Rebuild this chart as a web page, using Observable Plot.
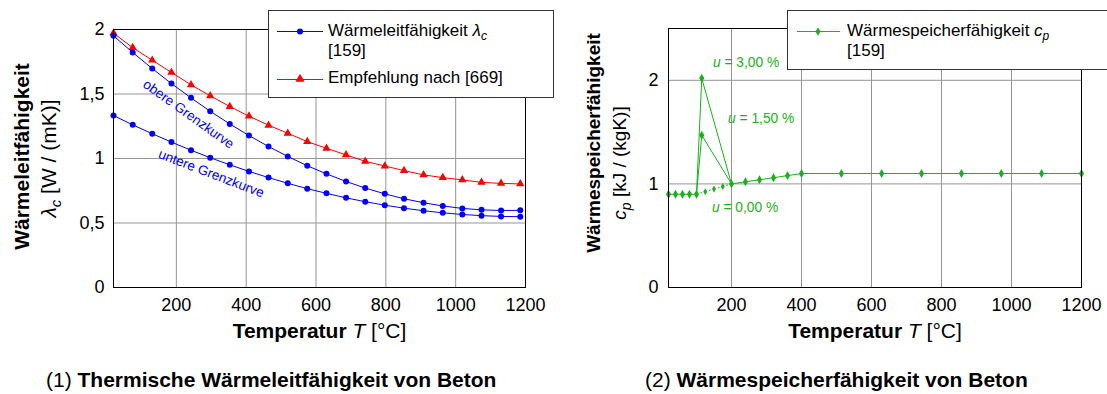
<!DOCTYPE html>
<html><head><meta charset="utf-8">
<script src="https://cdn.jsdelivr.net/npm/d3@7"></script>
<script src="https://cdn.jsdelivr.net/npm/@observablehq/plot@0.6"></script>
<style>
body{margin:0;background:#fff;}
#page{position:relative;width:1107px;height:394px;overflow:hidden;font-family:"Liberation Sans",Arial,Helvetica,sans-serif;}
#page > svg{position:absolute;top:0;}
</style></head><body><div id="page"></div>
<script>
// ---------- data: left chart (thermal conductivity) ----------
const tempLambda = [20,75,131,186,242,297,353,408,464,519,575,630,686,741,797,852,908,963,1019,1074,1130,1185];
const lambdaUpper = [1.951,1.822,1.697,1.581,1.470,1.366,1.268,1.178,1.093,1.016,0.944,0.881,0.822,0.771,0.726,0.688,0.657,0.632,0.613,0.602,0.597,0.598];
const lambdaLower = [1.333,1.261,1.192,1.127,1.064,1.006,0.951,0.900,0.852,0.808,0.766,0.730,0.695,0.665,0.638,0.615,0.595,0.579,0.566,0.557,0.551,0.549];
const lambdaRecommended = [1.972,1.859,1.762,1.667,1.571,1.486,1.403,1.328,1.258,1.196,1.131,1.079,1.028,0.978,0.942,0.906,0.873,0.852,0.834,0.815,0.807,0.803];
const lambdaTicksY = [0,0.5,1,1.5,2];
const tempTicks = [200,400,600,800,1000,1200];

// ---------- data: right chart (specific heat) ----------
const cpTempBase = [20,40,60,80,100];
const cpBase = [0.9,0.9,0.9,0.9,0.9];
const cpTempU0 = [100,125,150,175,200];
const cpU0 = [0.9,0.925,0.95,0.975,1.0];
const cpTempPeak = [100,115,200];
const cpU150 = [0.9,1.47,1.0];
const cpU300 = [0.9,2.02,1.0];
const cpTempHigh = [200,240,280,320,360,400,514,629,743,857,971,1086,1200];
const cpHigh = [1.0,1.02,1.04,1.06,1.08,1.10,1.10,1.10,1.10,1.10,1.10,1.10,1.10];
const cpTicksY = [0,1,2];

// ---------- texts ----------
const xTitle = "Temperatur T [°C]";
const yTitleLeft1 = "Wärmeleitfähigkeit";
const yTitleLeft2 = "λc [W / (mK)]";
const yTitleRight1 = "Wärmespeicherfähigkeit";
const yTitleRight2 = "cp [kJ / (kgK)]";
const curveLabels = [
  {T: 235, v: 1.343, text: "obere Grenzkurve", angle: 35.6},
  {T: 300, v: 0.883, text: "untere Grenzkurve", angle: 21}
];
const moistureLabels = [
  {T: 147, v: 2.17, text: "u = 3,00 %"},
  {T: 190, v: 1.63, text: "u = 1,50 %"},
  {T: 144, v: 0.775, text: "u = 0,00 %"}
];

const FONT = '"Liberation Sans", Arial, Helvetica, sans-serif';
const BLUE = "#0000ff", RED = "#ff0000", GREEN = "#19b219", GRID = "#959595";
const comma = d => String(d).replace(".", ",");
const rows = (xs, ys) => xs.map((T, i) => ({T, v: ys[i]}));

const upper = rows(tempLambda, lambdaUpper);
const lower = rows(tempLambda, lambdaLower);
const recom = rows(tempLambda, lambdaRecommended);

const page = document.getElementById("page");

const left = Plot.plot({
  width: 560, height: 352,
  marginLeft: 113, marginRight: 35, marginTop: 29, marginBottom: 65,
  style: {fontFamily: FONT, fontSize: "18px", color: "#000", background: "transparent", overflow: "visible"},
  x: {domain: [20, 1200]},
  y: {domain: [0, 2]},
  marks: [
    Plot.gridX(tempTicks.slice(0, -1), {stroke: GRID, strokeOpacity: 1, strokeWidth: 1}),
    Plot.gridY(lambdaTicksY.slice(1, -1), {stroke: GRID, strokeOpacity: 1, strokeWidth: 1}),
    Plot.line(recom, {x: "T", y: "v", stroke: RED, strokeWidth: 1}),
    Plot.dot(recom, {x: "T", y: "v", symbol: "triangle", r: 3.1, fill: RED}),
    Plot.line(upper, {x: "T", y: "v", stroke: BLUE, strokeWidth: 1}),
    Plot.dot(upper, {x: "T", y: "v", r: 3, fill: BLUE}),
    Plot.line(lower, {x: "T", y: "v", stroke: BLUE, strokeWidth: 1}),
    Plot.dot(lower, {x: "T", y: "v", r: 3, fill: BLUE}),
    Plot.text(curveLabels, {x: "T", y: "v", text: "text", rotate: d => d.angle, fill: BLUE, fontSize: 13.5}),
    Plot.axisX(tempTicks, {tickSize: 0, tickPadding: 11, fontSize: 18, label: null, tickFormat: d => String(d)}),
    Plot.axisY(lambdaTicksY, {tickSize: 0, tickPadding: 9, fontSize: 18, label: null, tickFormat: comma}),
    Plot.frame({stroke: "#000", strokeWidth: 1}),
    Plot.text([xTitle], {text: d => d, frameAnchor: "bottom", lineAnchor: "bottom", dy: 50, fontSize: 21}),
    Plot.text([yTitleLeft1], {text: d => d, frameAnchor: "left", textAnchor: "middle", rotate: -90, dx: -91, dy: -2, fontSize: 21, fontWeight: "bold"}),
    Plot.text([yTitleLeft2], {text: d => d, frameAnchor: "left", textAnchor: "middle", rotate: -90, dx: -64, fontSize: 21})
  ]
});
left.style.left = "0px";
page.appendChild(left);

const green = (xs, ys) => rows(xs, ys);
const right = Plot.plot({
  width: 547, height: 352,
  marginLeft: 108, marginRight: 26, marginTop: 28, marginBottom: 65,
  style: {fontFamily: FONT, fontSize: "18px", color: "#000", background: "transparent", overflow: "visible"},
  x: {domain: [20, 1200]},
  y: {domain: [0, 2.5]},
  marks: [
    Plot.gridX(tempTicks.slice(0, -1), {stroke: GRID, strokeOpacity: 1, strokeWidth: 1}),
    Plot.gridY(cpTicksY.slice(1), {stroke: GRID, strokeOpacity: 1, strokeWidth: 1}),
    Plot.line(green(cpTempBase, cpBase), {x: "T", y: "v", stroke: GREEN, strokeWidth: 1}),
    Plot.dot(green(cpTempBase, cpBase), {x: "T", y: "v", symbol: "diamond", r: 2.7, fill: GREEN}),
    Plot.line(green(cpTempU0, cpU0), {x: "T", y: "v", stroke: GREEN, strokeWidth: 1, strokeDasharray: "1,3.5"}),
    Plot.dot(green(cpTempU0, cpU0).slice(1, -1), {x: "T", y: "v", symbol: "diamond", r: 2.1, fill: GREEN}),
    Plot.line(green(cpTempPeak, cpU150), {x: "T", y: "v", stroke: GREEN, strokeWidth: 1}),
    Plot.line(green(cpTempPeak, cpU300), {x: "T", y: "v", stroke: GREEN, strokeWidth: 1}),
    Plot.dot(green(cpTempPeak, cpU150).slice(1, 2), {x: "T", y: "v", symbol: "diamond", r: 2.7, fill: GREEN}),
    Plot.dot(green(cpTempPeak, cpU300).slice(1, 2), {x: "T", y: "v", symbol: "diamond", r: 2.7, fill: GREEN}),
    Plot.line(green(cpTempHigh, cpHigh), {x: "T", y: "v", stroke: GREEN, strokeWidth: 1}),
    Plot.dot(green(cpTempHigh, cpHigh), {x: "T", y: "v", symbol: "diamond", r: 2.7, fill: GREEN}),
    Plot.text(moistureLabels, {x: "T", y: "v", text: "text", textAnchor: "start", fill: GREEN, fontSize: 13.8}),
    Plot.axisX(tempTicks, {tickSize: 0, tickPadding: 11, fontSize: 18, label: null, tickFormat: d => String(d)}),
    Plot.axisY(cpTicksY, {tickSize: 0, tickPadding: 10, fontSize: 18, label: null, tickFormat: comma}),
    Plot.frame({stroke: "#000", strokeWidth: 1}),
    Plot.text([xTitle], {text: d => d, frameAnchor: "bottom", lineAnchor: "bottom", dy: 50, fontSize: 21}),
    Plot.text([yTitleRight1], {text: d => d, frameAnchor: "left", textAnchor: "middle", rotate: -90, dx: -75, dy: -15, fontSize: 19, fontWeight: "bold"}),
    Plot.text([yTitleRight2], {text: d => d, frameAnchor: "left", textAnchor: "middle", rotate: -90, dx: -49, dy: 5, fontSize: 19})
  ]
});
right.style.left = "560px";
page.appendChild(right);

// rich text (bold / italic / subscripts) inside the plots
const rich = {
  "Temperatur T [°C]": '<tspan font-weight="bold">Temperatur</tspan> <tspan font-style="italic">T</tspan> [°C]',
  "λc [W / (mK)]": '<tspan font-style="italic">λ</tspan><tspan font-style="italic" font-size="15" dy="5">c</tspan><tspan dy="-5"> [W / (mK)]</tspan>',
  "cp [kJ / (kgK)]": '<tspan font-style="italic">c</tspan><tspan font-style="italic" font-size="14" dy="5">p</tspan><tspan dy="-5"> [kJ / (kgK)]</tspan>',
  "u = 3,00 %": '<tspan font-style="italic">u</tspan> = 3,00 %',
  "u = 1,50 %": '<tspan font-style="italic">u</tspan> = 1,50 %',
  "u = 0,00 %": '<tspan font-style="italic">u</tspan> = 0,00 %'
};
[left, right].forEach(svg => {
  d3.select(svg).selectAll("text").each(function() {
    const t = this.textContent;
    if (rich[t]) this.innerHTML = rich[t];
  });
});

// ---------- legends & captions overlay ----------
const ov = d3.select(page).append("svg")
  .attr("width", 1107).attr("height", 394)
  .style("left", "0px").style("pointer-events", "none")
  .attr("font-family", FONT);

// left legend
const lg1 = ov.append("g");
lg1.append("rect").attr("x", 268.5).attr("y", 10.5).attr("width", 285).attr("height", 87)
  .attr("fill", "#fff").attr("stroke", "#333").attr("stroke-width", 1);
lg1.append("line").attr("x1", 277).attr("x2", 323).attr("y1", 31.5).attr("y2", 31.5).attr("stroke", BLUE);
lg1.append("circle").attr("cx", 300).attr("cy", 31.5).attr("r", 3).attr("fill", BLUE);
lg1.append("text").attr("x", 328).attr("y", 36).attr("font-size", 17)
  .html('Wärmeleitfähigkeit <tspan font-style="italic">λ</tspan><tspan font-style="italic" font-size="12" dy="4">c</tspan>');
lg1.append("text").attr("x", 328).attr("y", 56).attr("font-size", 17).text("[159]");
lg1.append("line").attr("x1", 277).attr("x2", 323).attr("y1", 79.5).attr("y2", 79.5).attr("stroke", RED);
lg1.append("path").attr("d", d3.symbol(d3.symbolTriangle, 36)()).attr("transform", "translate(300,79)").attr("fill", RED);
lg1.append("text").attr("x", 328).attr("y", 83).attr("font-size", 17).text("Empfehlung nach [669]");

// right legend
const lg2 = ov.append("g");
lg2.append("rect").attr("x", 787.5).attr("y", 10.5).attr("width", 340).attr("height", 59)
  .attr("fill", "#fff").attr("stroke", "#333").attr("stroke-width", 1);
lg2.append("line").attr("x1", 797).attr("x2", 840).attr("y1", 31.5).attr("y2", 31.5).attr("stroke", GREEN);
lg2.append("path").attr("d", d3.symbol(d3.symbolDiamond, 22)()).attr("transform", "translate(818,31.5)").attr("fill", GREEN);
lg2.append("text").attr("x", 847).attr("y", 36).attr("font-size", 17)
  .html('Wärmespeicherfähigkeit <tspan font-style="italic">c</tspan><tspan font-style="italic" font-size="12" dy="4">p</tspan>');
lg2.append("text").attr("x", 847).attr("y", 56).attr("font-size", 17).text("[159]");

// captions
ov.append("text").attr("x", 46).attr("y", 387).attr("font-size", 21)
  .html('(1) <tspan font-weight="bold">Thermische Wärmeleitfähigkeit von Beton</tspan>');
ov.append("text").attr("x", 645).attr("y", 387).attr("font-size", 21)
  .html('(2) <tspan font-weight="bold">Wärmespeicherfähigkeit von Beton</tspan>');
</script>
</body></html>
